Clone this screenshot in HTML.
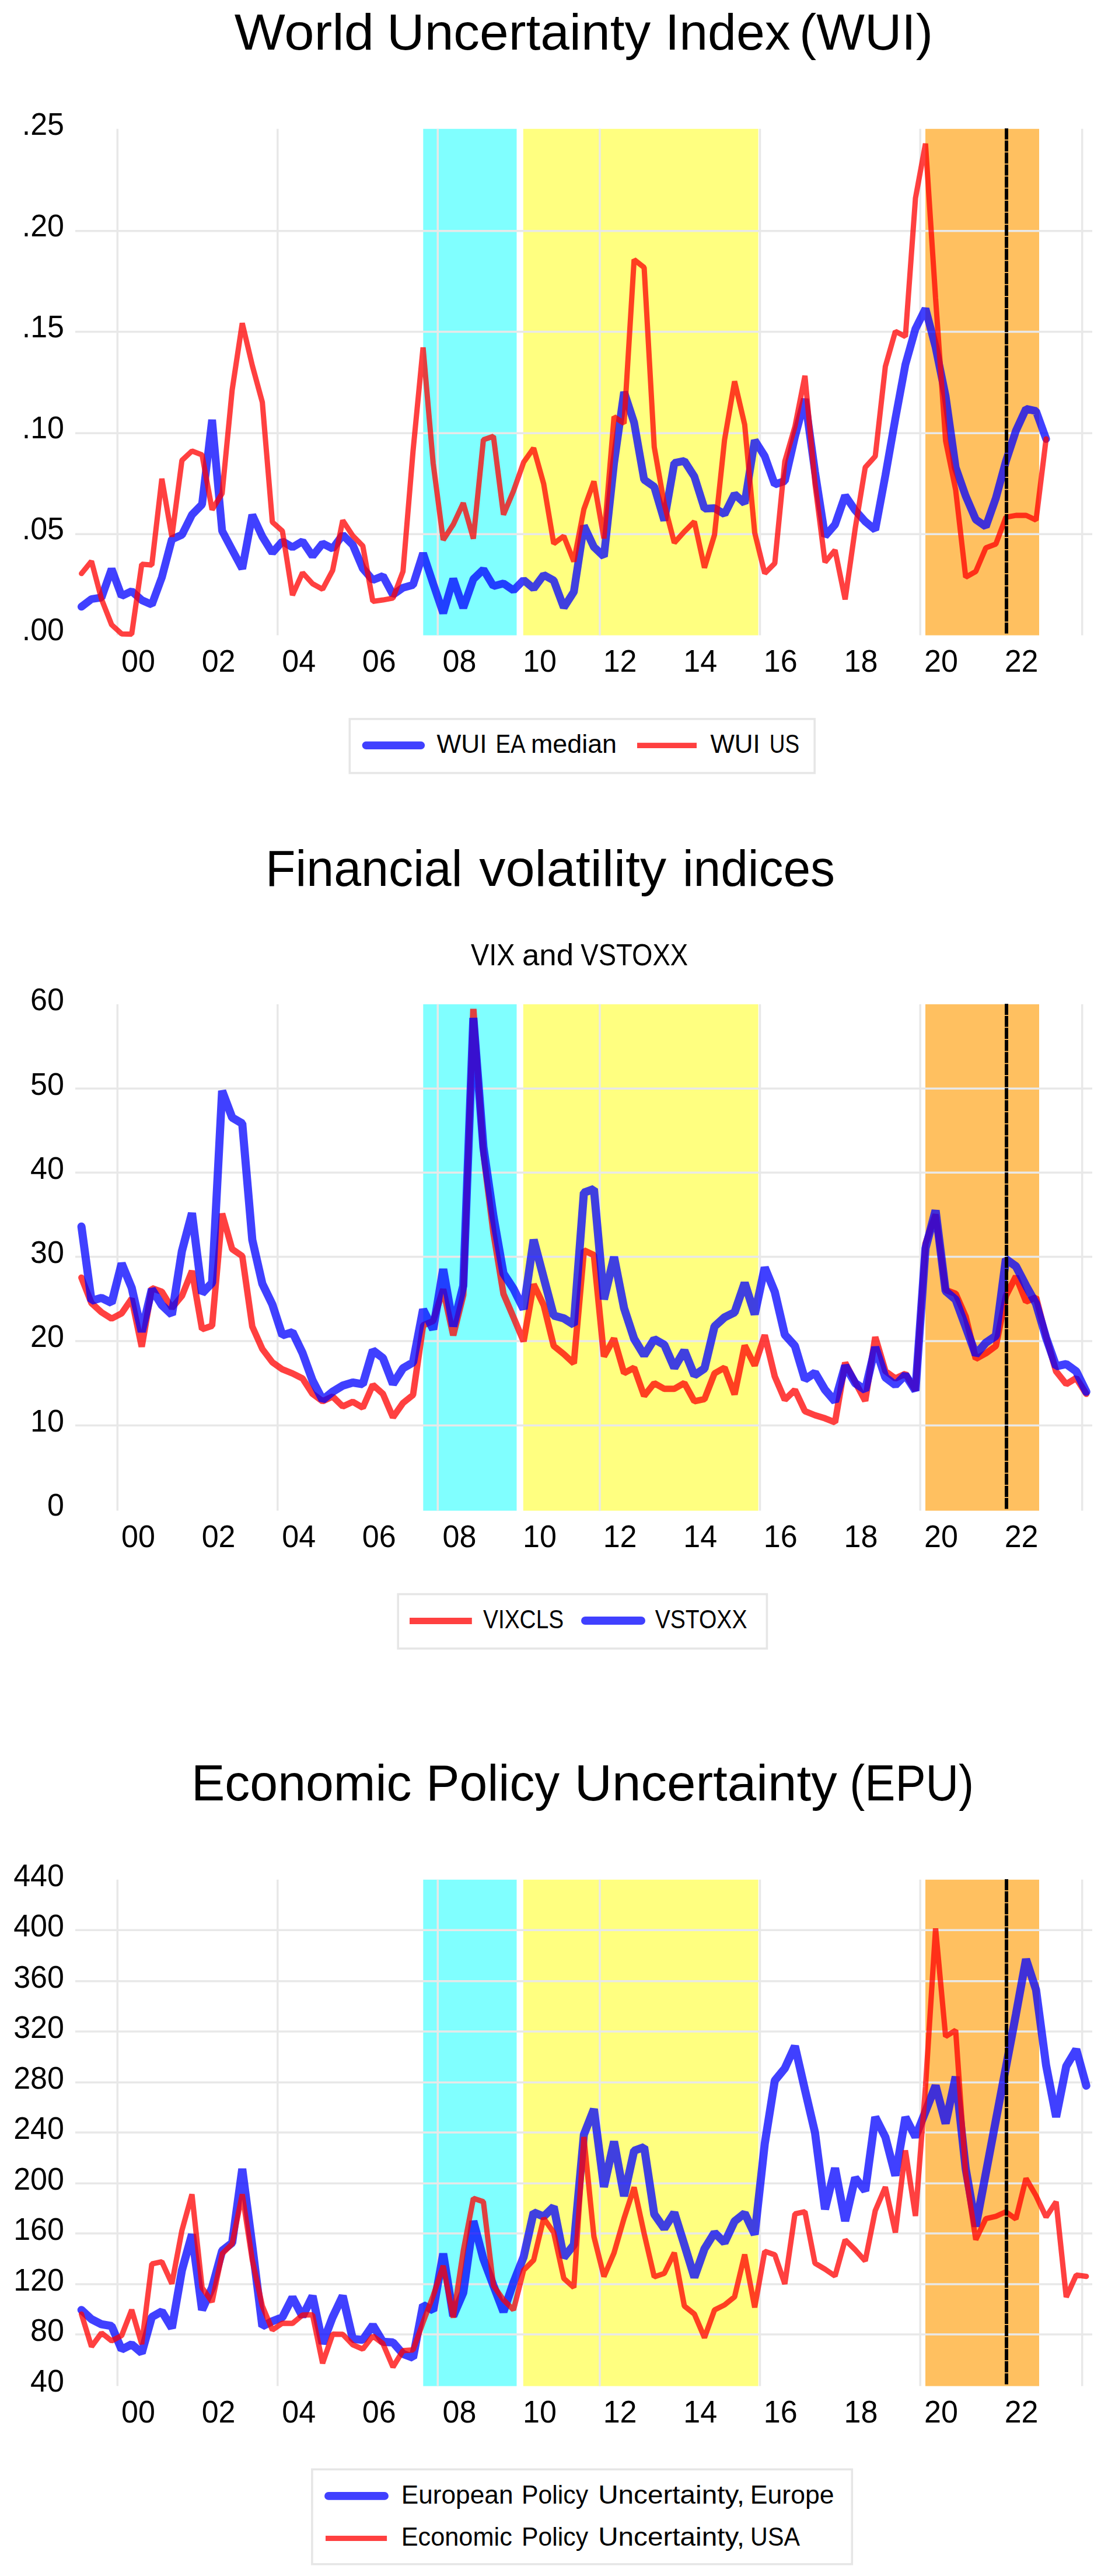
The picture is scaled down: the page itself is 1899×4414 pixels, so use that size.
<!DOCTYPE html>
<html lang="en"><head><meta charset="utf-8"><title>Uncertainty indices</title>
<style>html,body{margin:0;padding:0;background:#fff}svg{display:block}text{font-family:"Liberation Sans", sans-serif;fill:#000}.g{stroke:#e8e8e8;stroke-width:3.5;fill:none}.b{stroke:#0000ff;stroke-opacity:.75;fill:none;stroke-linejoin:round;stroke-linecap:round}.r{stroke:#ff0000;stroke-opacity:.75;stroke-width:9;fill:none;stroke-linejoin:round;stroke-linecap:round}.r2{stroke:#ff0000;stroke-opacity:.75;fill:none}.bf{fill:#0000ff;fill-opacity:.75;stroke:none}.rf{fill:#ff0000;fill-opacity:.75;stroke:none}.bv{stroke:#0000ff;stroke-opacity:.75;fill:none;stroke-linejoin:bevel;stroke-linecap:round}.rv{stroke:#ff0000;stroke-opacity:.75;fill:none;stroke-linejoin:bevel;stroke-linecap:round}.lg{fill:#fff;stroke:#e6e6e6;stroke-width:3.6}</style></head><body>
<svg width="1899" height="4414" viewBox="0 0 1899 4414">
<rect width="1899" height="4414" fill="#fff"/>
<g>
<rect x="725.3" y="220.8" width="160.2" height="867.8" fill="#80ffff"/>
<rect x="896.8" y="220.8" width="402.8" height="867.8" fill="#ffff80"/>
<rect x="1586.0" y="220.8" width="195.0" height="867.8" fill="#ffc060"/>
<line class="g" x1="201.3" y1="220.8" x2="201.3" y2="1088.6"/>
<line class="g" x1="475.8" y1="220.8" x2="475.8" y2="1088.6"/>
<line class="g" x1="750.3" y1="220.8" x2="750.3" y2="1088.6"/>
<line class="g" x1="1028.0" y1="220.8" x2="1028.0" y2="1088.6"/>
<line class="g" x1="1302.5" y1="220.8" x2="1302.5" y2="1088.6"/>
<line class="g" x1="1577.2" y1="220.8" x2="1577.2" y2="1088.6"/>
<line class="g" x1="1854.7" y1="220.8" x2="1854.7" y2="1088.6"/>
<line class="g" x1="129" y1="395.7" x2="1872" y2="395.7"/>
<line class="g" x1="129" y1="568.6" x2="1872" y2="568.6"/>
<line class="g" x1="129" y1="742.3" x2="1872" y2="742.3"/>
<line class="g" x1="129" y1="915.2" x2="1872" y2="915.2"/>
<polyline class="bv" stroke-width="13.4" points="139.6,1039.6 156.8,1026.5 174.0,1023.9 191.3,974.9 208.5,1021.3 225.7,1013.0 242.9,1028.3 260.2,1036.0 277.4,989.2 294.6,924.0 311.8,916.4 329.0,882.0 346.3,864.3 363.5,719.3 380.7,909.7 397.9,942.1 415.2,974.4 432.4,882.2 449.6,919.4 466.8,947.1 484.0,927.6 501.3,937.8 518.5,927.4 535.7,952.9 552.9,931.2 570.1,939.9 587.4,916.6 604.6,933.7 621.8,974.0 639.0,993.9 656.3,987.0 673.5,1019.0 690.7,1007.1 707.9,1002.3 725.1,948.1 742.4,1000.1 759.6,1050.5 776.8,991.8 794.0,1041.6 811.3,992.4 828.5,975.8 845.7,1004.4 862.9,999.8 880.1,1011.6 897.4,993.9 914.6,1008.4 931.8,985.2 949.0,994.7 966.3,1041.0 983.5,1014.2 1000.7,900.9 1017.9,937.3 1035.1,953.5 1052.4,794.0 1069.6,671.6 1086.8,724.1 1104.0,822.1 1121.3,834.0 1138.5,891.9 1155.7,793.4 1172.9,789.8 1190.1,816.7 1207.4,871.6 1224.6,870.7 1241.8,880.9 1259.0,846.6 1276.3,862.4 1293.5,754.5 1310.7,781.7 1327.9,830.1 1345.1,824.1 1362.4,748.6 1379.6,683.7 1396.8,808.0 1414.0,918.7 1431.2,898.9 1448.5,849.2 1465.7,874.4 1482.9,893.6 1500.1,907.8 1517.4,815.0 1534.6,717.1 1551.8,624.5 1569.0,563.4 1586.2,529.0 1603.5,594.8 1620.7,678.7 1637.9,801.0 1655.1,849.9 1672.4,890.2 1689.6,902.2 1706.8,853.4 1724.0,790.5 1741.2,738.1 1758.5,700.5 1775.7,704.4 1792.9,752.1"/>
<polyline class="rv" stroke-width="9.1" points="139.6,982.8 156.8,961.7 174.0,1026.6 191.3,1070.5 208.5,1086.2 225.7,1086.6 242.9,966.9 260.2,968.1 277.4,820.3 294.6,919.7 311.8,788.9 329.0,772.7 346.3,779.4 363.5,873.4 380.7,845.5 397.9,668.2 415.2,553.8 432.4,626.3 449.6,689.2 466.8,894.7 484.0,909.9 501.3,1019.8 518.5,981.3 535.7,1000.2 552.9,1009.7 570.1,977.4 587.4,891.7 604.6,918.0 621.8,935.4 639.0,1030.5 656.3,1028.1 673.5,1024.9 690.7,979.2 707.9,773.0 725.1,595.4 742.4,794.0 759.6,925.2 776.8,898.8 794.0,861.9 811.3,923.0 828.5,753.5 845.7,747.6 862.9,881.9 880.1,841.2 897.4,792.2 914.6,767.8 931.8,828.9 949.0,931.5 966.3,918.7 983.5,962.2 1000.7,872.6 1017.9,824.9 1035.1,922.5 1052.4,714.1 1069.6,725.4 1086.8,444.9 1104.0,458.4 1121.3,766.0 1138.5,863.9 1155.7,930.1 1172.9,911.0 1190.1,893.8 1207.4,972.8 1224.6,916.3 1241.8,753.8 1259.0,653.4 1276.3,727.6 1293.5,912.8 1310.7,982.4 1327.9,965.3 1345.1,790.5 1362.4,731.1 1379.6,643.8 1396.8,828.9 1414.0,963.4 1431.2,942.6 1448.5,1027.2 1465.7,905.8 1482.9,800.9 1500.1,781.8 1517.4,628.0 1534.6,567.7 1551.8,576.7 1569.0,339.8 1586.2,246.1 1603.5,511.0 1620.7,755.6 1637.9,839.4 1655.1,989.1 1672.4,979.3 1689.6,938.8 1706.8,932.2 1724.0,886.3 1741.2,883.1 1758.5,883.0 1775.7,891.2 1792.9,752.1"/>
<line x1="1725.0" y1="220.0" x2="1725.0" y2="1086.1" stroke="#000" stroke-width="6" stroke-dasharray="18.9 1.75"/>
<text x="110.0" y="231.4" font-size="54.2" text-anchor="end" textLength="72.3" lengthAdjust="spacingAndGlyphs">.25</text>
<text x="110.0" y="404.7" font-size="54.2" text-anchor="end" textLength="72.3" lengthAdjust="spacingAndGlyphs">.20</text>
<text x="110.0" y="577.6" font-size="54.2" text-anchor="end" textLength="72.3" lengthAdjust="spacingAndGlyphs">.15</text>
<text x="110.0" y="751.3" font-size="54.2" text-anchor="end" textLength="72.3" lengthAdjust="spacingAndGlyphs">.10</text>
<text x="110.0" y="924.2" font-size="54.2" text-anchor="end" textLength="72.3" lengthAdjust="spacingAndGlyphs">.05</text>
<text x="110.0" y="1097.4" font-size="54.2" text-anchor="end" textLength="72.3" lengthAdjust="spacingAndGlyphs">.00</text>
<text x="237.0" y="1151.4" font-size="54.2" text-anchor="middle" textLength="57.9" lengthAdjust="spacingAndGlyphs">00</text>
<text x="374.6" y="1151.4" font-size="54.2" text-anchor="middle" textLength="57.9" lengthAdjust="spacingAndGlyphs">02</text>
<text x="512.2" y="1151.4" font-size="54.2" text-anchor="middle" textLength="57.9" lengthAdjust="spacingAndGlyphs">04</text>
<text x="649.8" y="1151.4" font-size="54.2" text-anchor="middle" textLength="57.9" lengthAdjust="spacingAndGlyphs">06</text>
<text x="787.4" y="1151.4" font-size="54.2" text-anchor="middle" textLength="57.9" lengthAdjust="spacingAndGlyphs">08</text>
<text x="925.0" y="1151.4" font-size="54.2" text-anchor="middle" textLength="57.9" lengthAdjust="spacingAndGlyphs">10</text>
<text x="1062.6" y="1151.4" font-size="54.2" text-anchor="middle" textLength="57.9" lengthAdjust="spacingAndGlyphs">12</text>
<text x="1200.2" y="1151.4" font-size="54.2" text-anchor="middle" textLength="57.9" lengthAdjust="spacingAndGlyphs">14</text>
<text x="1337.8" y="1151.4" font-size="54.2" text-anchor="middle" textLength="57.9" lengthAdjust="spacingAndGlyphs">16</text>
<text x="1475.4" y="1151.4" font-size="54.2" text-anchor="middle" textLength="57.9" lengthAdjust="spacingAndGlyphs">18</text>
<text x="1613.0" y="1151.4" font-size="54.2" text-anchor="middle" textLength="57.9" lengthAdjust="spacingAndGlyphs">20</text>
<text x="1750.6" y="1151.4" font-size="54.2" text-anchor="middle" textLength="57.9" lengthAdjust="spacingAndGlyphs">22</text>
</g>
<g>
<rect x="725.3" y="1720.8" width="160.2" height="867.8" fill="#80ffff"/>
<rect x="896.8" y="1720.8" width="402.8" height="867.8" fill="#ffff80"/>
<rect x="1586.0" y="1720.8" width="195.0" height="867.8" fill="#ffc060"/>
<line class="g" x1="201.3" y1="1720.8" x2="201.3" y2="2588.6"/>
<line class="g" x1="475.8" y1="1720.8" x2="475.8" y2="2588.6"/>
<line class="g" x1="750.3" y1="1720.8" x2="750.3" y2="2588.6"/>
<line class="g" x1="1028.0" y1="1720.8" x2="1028.0" y2="2588.6"/>
<line class="g" x1="1302.5" y1="1720.8" x2="1302.5" y2="2588.6"/>
<line class="g" x1="1577.2" y1="1720.8" x2="1577.2" y2="2588.6"/>
<line class="g" x1="1854.7" y1="1720.8" x2="1854.7" y2="2588.6"/>
<line class="g" x1="129" y1="1865.2" x2="1872" y2="1865.2"/>
<line class="g" x1="129" y1="2009.2" x2="1872" y2="2009.2"/>
<line class="g" x1="129" y1="2153.6" x2="1872" y2="2153.6"/>
<line class="g" x1="129" y1="2298.0" x2="1872" y2="2298.0"/>
<line class="g" x1="129" y1="2442.4" x2="1872" y2="2442.4"/>
<polyline class="rv" stroke-width="11.0" points="139.6,2189.2 156.8,2232.9 174.0,2248.6 191.3,2259.5 208.5,2250.4 225.7,2225.4 242.9,2307.6 260.2,2207.3 277.4,2213.4 294.6,2241.3 311.8,2220.6 329.0,2177.7 346.3,2277.6 363.5,2271.7 380.7,2079.5 397.9,2140.4 415.2,2152.3 432.4,2273.0 449.6,2311.5 466.8,2334.2 484.0,2346.4 501.3,2353.4 518.5,2362.0 535.7,2388.4 552.9,2401.0 570.1,2393.0 587.4,2409.9 604.6,2402.0 621.8,2412.1 639.0,2372.9 656.3,2388.3 673.5,2428.6 690.7,2404.0 707.9,2390.2 725.1,2271.0 742.4,2263.5 759.6,2209.1 776.8,2288.2 794.0,2218.9 811.3,1728.8 828.5,1976.0 845.7,2112.3 862.9,2217.1 880.1,2257.3 897.4,2298.4 914.6,2200.6 931.8,2236.3 949.0,2306.3 966.3,2320.2 983.5,2336.1 1000.7,2142.4 1017.9,2150.4 1035.1,2324.4 1052.4,2293.5 1069.6,2352.8 1086.8,2343.6 1104.0,2391.9 1121.3,2370.1 1138.5,2379.7 1155.7,2379.7 1172.9,2369.9 1190.1,2401.2 1207.4,2397.4 1224.6,2353.2 1241.8,2343.5 1259.0,2389.3 1276.3,2305.5 1293.5,2339.9 1310.7,2287.8 1327.9,2358.6 1345.1,2398.5 1362.4,2381.7 1379.6,2418.2 1396.8,2425.0 1414.0,2430.3 1431.2,2437.1 1448.5,2335.0 1465.7,2368.0 1482.9,2400.5 1500.1,2291.0 1517.4,2349.4 1534.6,2362.0 1551.8,2353.9 1569.0,2382.5 1586.2,2131.0 1603.5,2081.1 1620.7,2210.3 1637.9,2216.8 1655.1,2256.0 1672.4,2328.3 1689.6,2319.0 1706.8,2306.4 1724.0,2220.6 1741.2,2187.0 1758.5,2230.2 1775.7,2223.1 1792.9,2290.5 1810.1,2349.9 1827.4,2371.7 1844.6,2361.2 1861.8,2388.3"/>
<polyline class="bv" stroke-width="14.0" points="139.6,2101.8 156.8,2228.9 174.0,2223.9 191.3,2232.6 208.5,2165.0 225.7,2206.6 242.9,2282.0 260.2,2209.1 277.4,2236.4 294.6,2252.6 311.8,2143.7 329.0,2078.7 346.3,2216.1 363.5,2198.1 380.7,1869.2 397.9,1915.0 415.2,1925.1 432.4,2124.5 449.6,2199.7 466.8,2235.3 484.0,2288.1 501.3,2282.6 518.5,2318.4 535.7,2365.6 552.9,2398.7 570.1,2384.8 587.4,2374.3 604.6,2369.0 621.8,2371.8 639.0,2313.8 656.3,2327.0 673.5,2371.6 690.7,2344.6 707.9,2334.4 725.1,2243.8 742.4,2277.9 759.6,2174.7 776.8,2272.6 794.0,2203.1 811.3,1744.3 828.5,1965.5 845.7,2084.3 862.9,2182.2 880.1,2208.4 897.4,2243.1 914.6,2124.2 931.8,2189.2 949.0,2254.2 966.3,2259.0 983.5,2269.7 1000.7,2043.6 1017.9,2037.4 1035.1,2226.4 1052.4,2153.9 1069.6,2241.6 1086.8,2294.0 1104.0,2322.3 1121.3,2294.6 1138.5,2304.3 1155.7,2343.6 1172.9,2314.2 1190.1,2356.7 1207.4,2344.9 1224.6,2272.9 1241.8,2257.3 1259.0,2248.8 1276.3,2198.2 1293.5,2252.1 1310.7,2171.9 1327.9,2213.6 1345.1,2287.1 1362.4,2306.2 1379.6,2363.7 1396.8,2352.1 1414.0,2381.4 1431.2,2401.3 1448.5,2340.2 1465.7,2370.1 1482.9,2381.8 1500.1,2308.5 1517.4,2360.1 1534.6,2373.3 1551.8,2355.9 1569.0,2383.0 1586.2,2139.0 1603.5,2074.1 1620.7,2212.2 1637.9,2226.9 1655.1,2273.5 1672.4,2321.3 1689.6,2300.8 1706.8,2289.0 1724.0,2157.5 1741.2,2169.8 1758.5,2203.1 1775.7,2233.9 1792.9,2292.2 1810.1,2341.1 1827.4,2337.3 1844.6,2349.8 1861.8,2384.8"/>
<line x1="1725.0" y1="1720.0" x2="1725.0" y2="2586.1" stroke="#000" stroke-width="6" stroke-dasharray="18.9 1.75"/>
<text x="110.0" y="1731.2" font-size="54.2" text-anchor="end" textLength="57.9" lengthAdjust="spacingAndGlyphs">60</text>
<text x="110.0" y="1875.6" font-size="54.2" text-anchor="end" textLength="57.9" lengthAdjust="spacingAndGlyphs">50</text>
<text x="110.0" y="2019.6" font-size="54.2" text-anchor="end" textLength="57.9" lengthAdjust="spacingAndGlyphs">40</text>
<text x="110.0" y="2164.0" font-size="54.2" text-anchor="end" textLength="57.9" lengthAdjust="spacingAndGlyphs">30</text>
<text x="110.0" y="2308.4" font-size="54.2" text-anchor="end" textLength="57.9" lengthAdjust="spacingAndGlyphs">20</text>
<text x="110.0" y="2452.8" font-size="54.2" text-anchor="end" textLength="57.9" lengthAdjust="spacingAndGlyphs">10</text>
<text x="110.0" y="2597.4" font-size="54.2" text-anchor="end" textLength="28.9" lengthAdjust="spacingAndGlyphs">0</text>
<text x="237.0" y="2651.4" font-size="54.2" text-anchor="middle" textLength="57.9" lengthAdjust="spacingAndGlyphs">00</text>
<text x="374.6" y="2651.4" font-size="54.2" text-anchor="middle" textLength="57.9" lengthAdjust="spacingAndGlyphs">02</text>
<text x="512.2" y="2651.4" font-size="54.2" text-anchor="middle" textLength="57.9" lengthAdjust="spacingAndGlyphs">04</text>
<text x="649.8" y="2651.4" font-size="54.2" text-anchor="middle" textLength="57.9" lengthAdjust="spacingAndGlyphs">06</text>
<text x="787.4" y="2651.4" font-size="54.2" text-anchor="middle" textLength="57.9" lengthAdjust="spacingAndGlyphs">08</text>
<text x="925.0" y="2651.4" font-size="54.2" text-anchor="middle" textLength="57.9" lengthAdjust="spacingAndGlyphs">10</text>
<text x="1062.6" y="2651.4" font-size="54.2" text-anchor="middle" textLength="57.9" lengthAdjust="spacingAndGlyphs">12</text>
<text x="1200.2" y="2651.4" font-size="54.2" text-anchor="middle" textLength="57.9" lengthAdjust="spacingAndGlyphs">14</text>
<text x="1337.8" y="2651.4" font-size="54.2" text-anchor="middle" textLength="57.9" lengthAdjust="spacingAndGlyphs">16</text>
<text x="1475.4" y="2651.4" font-size="54.2" text-anchor="middle" textLength="57.9" lengthAdjust="spacingAndGlyphs">18</text>
<text x="1613.0" y="2651.4" font-size="54.2" text-anchor="middle" textLength="57.9" lengthAdjust="spacingAndGlyphs">20</text>
<text x="1750.6" y="2651.4" font-size="54.2" text-anchor="middle" textLength="57.9" lengthAdjust="spacingAndGlyphs">22</text>
</g>
<g>
<rect x="725.3" y="3220.8" width="160.2" height="867.8" fill="#80ffff"/>
<rect x="896.8" y="3220.8" width="402.8" height="867.8" fill="#ffff80"/>
<rect x="1586.0" y="3220.8" width="195.0" height="867.8" fill="#ffc060"/>
<line class="g" x1="201.3" y1="3220.8" x2="201.3" y2="4088.6"/>
<line class="g" x1="475.8" y1="3220.8" x2="475.8" y2="4088.6"/>
<line class="g" x1="750.3" y1="3220.8" x2="750.3" y2="4088.6"/>
<line class="g" x1="1028.0" y1="3220.8" x2="1028.0" y2="4088.6"/>
<line class="g" x1="1302.5" y1="3220.8" x2="1302.5" y2="4088.6"/>
<line class="g" x1="1577.2" y1="3220.8" x2="1577.2" y2="4088.6"/>
<line class="g" x1="1854.7" y1="3220.8" x2="1854.7" y2="4088.6"/>
<line class="g" x1="129" y1="3307.3" x2="1872" y2="3307.3"/>
<line class="g" x1="129" y1="3394.7" x2="1872" y2="3394.7"/>
<line class="g" x1="129" y1="3480.9" x2="1872" y2="3480.9"/>
<line class="g" x1="129" y1="3568.2" x2="1872" y2="3568.2"/>
<line class="g" x1="129" y1="3654.0" x2="1872" y2="3654.0"/>
<line class="g" x1="129" y1="3741.3" x2="1872" y2="3741.3"/>
<line class="g" x1="129" y1="3827.1" x2="1872" y2="3827.1"/>
<line class="g" x1="129" y1="3914.1" x2="1872" y2="3914.1"/>
<line class="g" x1="129" y1="3999.9" x2="1872" y2="3999.9"/>
<polyline class="bv" stroke-width="13.9" points="139.6,3958.2 156.8,3974.0 174.0,3982.7 191.3,3985.7 208.5,4025.9 225.7,4017.0 242.9,4031.8 260.2,3970.2 277.4,3960.6 294.6,3989.1 311.8,3890.1 329.0,3828.6 346.3,3958.1 363.5,3919.8 380.7,3856.8 397.9,3843.1 415.2,3716.4 432.4,3848.1 449.6,3986.1 466.8,3977.4 484.0,3970.7 501.3,3936.6 518.5,3969.3 535.7,3934.2 552.9,4015.7 570.1,3970.4 587.4,3934.1 604.6,4007.8 621.8,4009.4 639.0,3984.1 656.3,4012.8 673.5,4013.8 690.7,4033.5 707.9,4039.9 725.1,3949.7 742.4,3959.0 759.6,3861.6 776.8,3968.6 794.0,3928.5 811.3,3805.9 828.5,3870.9 845.7,3916.3 862.9,3961.3 880.1,3911.0 897.4,3867.4 914.6,3790.9 931.8,3798.0 949.0,3781.3 966.3,3868.2 983.5,3846.5 1000.7,3657.7 1017.9,3614.0 1035.1,3747.3 1052.4,3669.6 1069.6,3762.9 1086.8,3685.2 1104.0,3679.0 1121.3,3794.0 1138.5,3818.6 1155.7,3791.4 1172.9,3846.4 1190.1,3902.1 1207.4,3853.4 1224.6,3825.6 1241.8,3842.9 1259.0,3806.1 1276.3,3792.4 1293.5,3828.8 1310.7,3673.4 1327.9,3565.1 1345.1,3544.2 1362.4,3506.0 1379.6,3580.9 1396.8,3654.2 1414.0,3785.6 1431.2,3715.1 1448.5,3805.8 1465.7,3731.6 1482.9,3754.1 1500.1,3627.7 1517.4,3661.8 1534.6,3727.9 1551.8,3627.9 1569.0,3661.6 1586.2,3618.0 1603.5,3573.8 1620.7,3638.6 1637.9,3558.5 1655.1,3716.0 1672.4,3815.0 1689.6,3724.0 1706.8,3633.0 1724.0,3542.5 1741.2,3451.6 1758.5,3357.1 1775.7,3409.6 1792.9,3538.9 1810.1,3627.4 1827.4,3540.6 1844.6,3511.7 1861.8,3573.9"/>
<polyline class="rv" stroke-width="9.2" points="139.6,3965.2 156.8,4021.0 174.0,3997.5 191.3,4011.1 208.5,4002.0 225.7,3957.8 242.9,4016.6 260.2,3879.2 277.4,3875.5 294.6,3913.2 311.8,3821.9 329.0,3760.0 346.3,3919.8 363.5,3944.3 380.7,3862.1 397.9,3844.7 415.2,3759.9 432.4,3872.6 449.6,3951.2 466.8,3992.5 484.0,3980.8 501.3,3981.1 518.5,3966.8 535.7,3966.4 552.9,4049.6 570.1,3999.7 587.4,3999.9 604.6,4017.7 621.8,4025.2 639.0,4002.8 656.3,4015.8 673.5,4056.0 690.7,4027.8 707.9,4026.7 725.1,3979.2 742.4,3933.8 759.6,3882.5 776.8,3971.3 794.0,3856.9 811.3,3766.9 828.5,3772.7 845.7,3916.3 862.9,3940.8 880.1,3958.0 897.4,3890.0 914.6,3872.7 931.8,3800.9 949.0,3825.4 966.3,3904.1 983.5,3919.6 1000.7,3661.8 1017.9,3832.4 1035.1,3901.0 1052.4,3860.4 1069.6,3801.0 1086.8,3748.0 1104.0,3827.2 1121.3,3901.4 1138.5,3895.5 1155.7,3860.0 1172.9,3951.3 1190.1,3965.1 1207.4,4005.6 1224.6,3958.1 1241.8,3949.5 1259.0,3935.6 1276.3,3863.1 1293.5,3953.8 1310.7,3857.7 1327.9,3863.6 1345.1,3913.5 1362.4,3793.6 1379.6,3789.7 1396.8,3878.0 1414.0,3888.3 1431.2,3900.0 1448.5,3837.9 1465.7,3855.0 1482.9,3874.2 1500.1,3788.0 1517.4,3747.6 1534.6,3825.5 1551.8,3684.7 1569.0,3797.1 1586.2,3576.0 1603.5,3304.3 1620.7,3489.6 1637.9,3478.8 1655.1,3725.0 1672.4,3837.7 1689.6,3801.8 1706.8,3797.7 1724.0,3790.0 1741.2,3802.2 1758.5,3732.7 1775.7,3762.5 1792.9,3799.0 1810.1,3772.8 1827.4,3936.0 1844.6,3898.3 1861.8,3900.6"/>
<line x1="1725.0" y1="3220.0" x2="1725.0" y2="4086.1" stroke="#000" stroke-width="6" stroke-dasharray="18.9 1.75"/>
<text x="110.0" y="3231.8" font-size="54.2" text-anchor="end" textLength="86.8" lengthAdjust="spacingAndGlyphs">440</text>
<text x="110.0" y="3318.4" font-size="54.2" text-anchor="end" textLength="86.8" lengthAdjust="spacingAndGlyphs">400</text>
<text x="110.0" y="3405.8" font-size="54.2" text-anchor="end" textLength="86.8" lengthAdjust="spacingAndGlyphs">360</text>
<text x="110.0" y="3492.0" font-size="54.2" text-anchor="end" textLength="86.8" lengthAdjust="spacingAndGlyphs">320</text>
<text x="110.0" y="3579.3" font-size="54.2" text-anchor="end" textLength="86.8" lengthAdjust="spacingAndGlyphs">280</text>
<text x="110.0" y="3665.1" font-size="54.2" text-anchor="end" textLength="86.8" lengthAdjust="spacingAndGlyphs">240</text>
<text x="110.0" y="3752.4" font-size="54.2" text-anchor="end" textLength="86.8" lengthAdjust="spacingAndGlyphs">200</text>
<text x="110.0" y="3838.2" font-size="54.2" text-anchor="end" textLength="86.8" lengthAdjust="spacingAndGlyphs">160</text>
<text x="110.0" y="3925.2" font-size="54.2" text-anchor="end" textLength="86.8" lengthAdjust="spacingAndGlyphs">120</text>
<text x="110.0" y="4011.0" font-size="54.2" text-anchor="end" textLength="57.9" lengthAdjust="spacingAndGlyphs">80</text>
<text x="110.0" y="4097.6" font-size="54.2" text-anchor="end" textLength="57.9" lengthAdjust="spacingAndGlyphs">40</text>
<text x="237.0" y="4151.4" font-size="54.2" text-anchor="middle" textLength="57.9" lengthAdjust="spacingAndGlyphs">00</text>
<text x="374.6" y="4151.4" font-size="54.2" text-anchor="middle" textLength="57.9" lengthAdjust="spacingAndGlyphs">02</text>
<text x="512.2" y="4151.4" font-size="54.2" text-anchor="middle" textLength="57.9" lengthAdjust="spacingAndGlyphs">04</text>
<text x="649.8" y="4151.4" font-size="54.2" text-anchor="middle" textLength="57.9" lengthAdjust="spacingAndGlyphs">06</text>
<text x="787.4" y="4151.4" font-size="54.2" text-anchor="middle" textLength="57.9" lengthAdjust="spacingAndGlyphs">08</text>
<text x="925.0" y="4151.4" font-size="54.2" text-anchor="middle" textLength="57.9" lengthAdjust="spacingAndGlyphs">10</text>
<text x="1062.6" y="4151.4" font-size="54.2" text-anchor="middle" textLength="57.9" lengthAdjust="spacingAndGlyphs">12</text>
<text x="1200.2" y="4151.4" font-size="54.2" text-anchor="middle" textLength="57.9" lengthAdjust="spacingAndGlyphs">14</text>
<text x="1337.8" y="4151.4" font-size="54.2" text-anchor="middle" textLength="57.9" lengthAdjust="spacingAndGlyphs">16</text>
<text x="1475.4" y="4151.4" font-size="54.2" text-anchor="middle" textLength="57.9" lengthAdjust="spacingAndGlyphs">18</text>
<text x="1613.0" y="4151.4" font-size="54.2" text-anchor="middle" textLength="57.9" lengthAdjust="spacingAndGlyphs">20</text>
<text x="1750.6" y="4151.4" font-size="54.2" text-anchor="middle" textLength="57.9" lengthAdjust="spacingAndGlyphs">22</text>
</g>
<text y="84.9" font-size="87">
<tspan x="401.8" textLength="239.2" lengthAdjust="spacingAndGlyphs">World</tspan>
<tspan x="663.1" textLength="452.1" lengthAdjust="spacingAndGlyphs">Uncertainty</tspan>
<tspan x="1139.9" textLength="214.7" lengthAdjust="spacingAndGlyphs">Index</tspan>
<tspan x="1370.0" textLength="228.9" lengthAdjust="spacingAndGlyphs">(WUI)</tspan>
</text>
<text y="1517.7" font-size="87">
<tspan x="455.1" textLength="337.4" lengthAdjust="spacingAndGlyphs">Financial</tspan>
<tspan x="821.3" textLength="320.9" lengthAdjust="spacingAndGlyphs">volatility</tspan>
<tspan x="1169.9" textLength="261.1" lengthAdjust="spacingAndGlyphs">indices</tspan>
</text>
<text y="1653.8" font-size="52.3">
<tspan x="807.0" textLength="75.4" lengthAdjust="spacingAndGlyphs">VIX</tspan>
<tspan x="894.9" textLength="88.2" lengthAdjust="spacingAndGlyphs">and</tspan>
<tspan x="995.3" textLength="183.8" lengthAdjust="spacingAndGlyphs">VSTOXX</tspan>
</text>
<text y="3084.9" font-size="87">
<tspan x="328.0" textLength="377.6" lengthAdjust="spacingAndGlyphs">Economic</tspan>
<tspan x="730.2" textLength="229.1" lengthAdjust="spacingAndGlyphs">Policy</tspan>
<tspan x="984.7" textLength="450.1" lengthAdjust="spacingAndGlyphs">Uncertainty</tspan>
<tspan x="1456.3" textLength="212.8" lengthAdjust="spacingAndGlyphs">(EPU)</tspan>
</text>
<rect class="lg" x="599.3" y="1232.0" width="796.9" height="92.6"/>
<line class="b" stroke-width="13.4" x1="627.4" y1="1277.3" x2="721.4" y2="1277.3"/>
<text y="1290.0" font-size="45.2">
<tspan x="748.5" textLength="86.0" lengthAdjust="spacingAndGlyphs">WUI</tspan>
<tspan x="849.4" textLength="49.2" lengthAdjust="spacingAndGlyphs">EA</tspan>
<tspan x="909.9" textLength="147.2" lengthAdjust="spacingAndGlyphs">median</tspan>
</text>
<line class="r2" stroke-width="9.1" x1="1092.0" y1="1277.4" x2="1194.0" y2="1277.4"/>
<text y="1290.0" font-size="45.2">
<tspan x="1217.4" textLength="85.4" lengthAdjust="spacingAndGlyphs">WUI</tspan>
<tspan x="1318.8" textLength="51.3" lengthAdjust="spacingAndGlyphs">US</tspan>
</text>
<rect class="lg" x="682.2" y="2731.6" width="632.2" height="93.2"/>
<line class="r2" stroke-width="11.0" x1="702.0" y1="2777.5" x2="808.8" y2="2777.5"/>
<text y="2790.0" font-size="45.2">
<tspan x="828.0" textLength="138.2" lengthAdjust="spacingAndGlyphs">VIXCLS</tspan>
</text>
<line class="b" stroke-width="14.0" x1="1003.0" y1="2777.0" x2="1099.0" y2="2777.0"/>
<text y="2790.0" font-size="45.2">
<tspan x="1122.7" textLength="157.8" lengthAdjust="spacingAndGlyphs">VSTOXX</tspan>
</text>
<rect class="lg" x="534.9" y="4231.3" width="925.4" height="162.4"/>
<line class="b" stroke-width="13.9" x1="563.0" y1="4276.9" x2="659.0" y2="4276.9"/>
<text y="4290.0" font-size="45.2">
<tspan x="687.7" textLength="191.8" lengthAdjust="spacingAndGlyphs">European</tspan>
<tspan x="894.0" textLength="114.1" lengthAdjust="spacingAndGlyphs">Policy</tspan>
<tspan x="1025.2" textLength="250.8" lengthAdjust="spacingAndGlyphs">Uncertainty,</tspan>
<tspan x="1285.8" textLength="143.7" lengthAdjust="spacingAndGlyphs">Europe</tspan>
</text>
<line class="r2" stroke-width="9.2" x1="558.0" y1="4349.5" x2="663.1" y2="4349.5"/>
<text y="4361.6" font-size="45.2">
<tspan x="687.7" textLength="190.1" lengthAdjust="spacingAndGlyphs">Economic</tspan>
<tspan x="894.0" textLength="114.1" lengthAdjust="spacingAndGlyphs">Policy</tspan>
<tspan x="1025.2" textLength="250.8" lengthAdjust="spacingAndGlyphs">Uncertainty,</tspan>
<tspan x="1286.1" textLength="84.8" lengthAdjust="spacingAndGlyphs">USA</tspan>
</text>
</svg></body></html>
